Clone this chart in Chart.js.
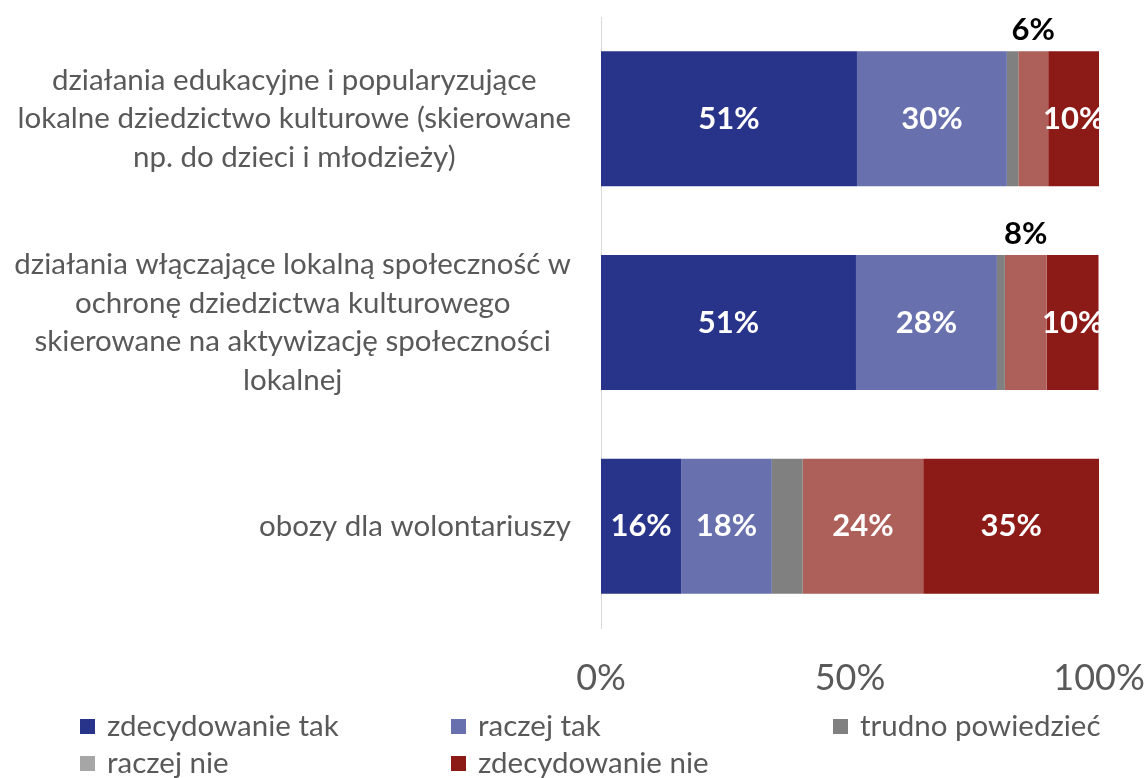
<!DOCTYPE html>
<html>
<head>
<meta charset="utf-8">
<script src="https://cdn.jsdelivr.net/npm/chart.js@4"></script>
<style>
  html, body { margin: 0; padding: 0; background: #fff; }
  #wrap { width: 1144px; height: 778px; }
</style>
</head>
<body>
<div id="wrap"><canvas id="chart-1" width="1144" height="778"></canvas></div>
<script>
// categories (wrapped as in the original)
const categories = [
  ['działania edukacyjne i popularyzujące', 'lokalne dziedzictwo kulturowe (skierowane', 'np. do dzieci i młodzieży)'],
  ['działania włączające lokalną społeczność w', 'ochronę dziedzictwa kulturowego', 'skierowane na aktywizację społeczności', 'lokalnej'],
  ['obozy dla wolontariuszy']
];
const seriesNames = ['zdecydowanie tak', 'raczej tak', 'trudno powiedzieć', 'raczej nie', 'zdecydowanie nie'];
const zdecydowanieTak = [51.4, 51.2, 16.1];
const raczejTak = [30.1, 28.3, 18.2];
const trudnoPowiedziec = [2.3, 1.6, 6.2];
const raczejNie = [6.0, 8.4, 24.2];
const zdecydowanieNie = [10.2, 10.4, 35.3];
const xTicks = [0, 50, 100];

const FONT = 'Lato';
const TXT = '#595959';

const barColors = ['#283489', '#6870AE', '#808080', '#AD5F5A', '#8C1A17'];
const legendColors = ['#283489', '#6870AE', '#808080', '#A6A6A6', '#8C1A17'];
const seriesValues = [zdecydowanieTak, raczejTak, trudnoPowiedziec, raczejNie, zdecydowanieNie];

// y labels: each block right aligned, lines centred in the block
const yLabels = {
  id: 'yLabels',
  afterDraw(chart) {
    const ctx = chart.ctx;
    const y = chart.scales.y;
    const right = 571;
    const lh = 38.5;
    ctx.save();
    ctx.font = '29.5px ' + FONT;
    ctx.fillStyle = TXT;
    ctx.textAlign = 'center';
    ctx.textBaseline = 'middle';
    categories.forEach((lines, i) => {
      const w = Math.max(...lines.map(l => ctx.measureText(l).width));
      const cx = right - w / 2;
      const cy = y.getPixelForValue(i);
      lines.forEach((l, k) => {
        ctx.fillText(l, cx, cy + (k - (lines.length - 1) / 2) * lh);
      });
    });
    ctx.restore();
  }
};

// value labels
const valueLabels = {
  id: 'valueLabels',
  afterDatasetsDraw(chart) {
    const ctx = chart.ctx;
    ctx.save();
    ctx.font = 'bold 31px ' + FONT;
    ctx.textAlign = 'center';
    ctx.textBaseline = 'middle';
    chart.data.datasets.forEach((ds, di) => {
      if (di === 2) return;
      chart.getDatasetMeta(di).data.forEach((bar, i) => {
        const txt = Math.round(ds.data[i]) + '%';
        const cx = (bar.x + bar.base) / 2;
        if (di === 3 && ds.data[i] < 10) {
          ctx.fillStyle = '#000';
          ctx.fillText(txt, cx, bar.y - bar.height / 2 - 21);
        } else {
          ctx.fillStyle = '#fff';
          ctx.fillText(txt, cx, bar.y);
        }
      });
    });
    ctx.restore();
  }
};

// legend in three columns
const gridLegend = {
  id: 'gridLegend',
  afterDraw(chart) {
    const ctx = chart.ctx;
    const cols = [80, 451, 833];
    const rows = [726, 763];
    ctx.save();
    ctx.font = '29.5px ' + FONT;
    ctx.textBaseline = 'middle';
    ctx.textAlign = 'left';
    seriesNames.forEach((name, i) => {
      const x = cols[i % 3];
      const y = rows[Math.floor(i / 3)];
      ctx.fillStyle = legendColors[i];
      ctx.fillRect(x, y - 7, 15, 15);
      ctx.fillStyle = TXT;
      ctx.fillText(name, x + 27, y);
    });
    ctx.restore();
  }
};

const ctx1 = document.getElementById('chart-1').getContext('2d');
const myChart = new Chart(ctx1, {
  type: 'bar',
  data: {
    labels: categories,
    datasets: seriesNames.map((name, i) => ({
      label: name,
      data: seriesValues[i],
      backgroundColor: barColors[i],
      borderWidth: 0,
      barPercentage: 0.663,
      categoryPercentage: 1
    }))
  },
  options: {
    indexAxis: 'y',
    responsive: false,
    animation: false,
    layout: { padding: { top: 17, right: 45, bottom: 79, left: 0 } },
    plugins: {
      legend: { display: false },
      tooltip: { enabled: false }
    },
    scales: {
      x: {
        stacked: true,
        min: 0,
        max: 100,
        afterBuildTicks: s => { s.ticks = xTicks.map(v => ({ value: v })); },
        afterFit: s => { s.height = 71; s.paddingLeft = 0; s.paddingRight = 0; },
        grid: { display: false },
        border: { display: false },
        ticks: {
          padding: 21,
          color: TXT,
          font: { family: FONT, size: 36 },
          callback: v => v + '%'
        }
      },
      y: {
        stacked: true,
        grid: { display: false },
        border: { display: true, color: '#D9D9D9', width: 1 },
        ticks: { display: false },
        afterFit: s => { s.width = 601; }
      }
    }
  },
  plugins: [yLabels, valueLabels, gridLegend]
});
</script>
</body>
</html>
